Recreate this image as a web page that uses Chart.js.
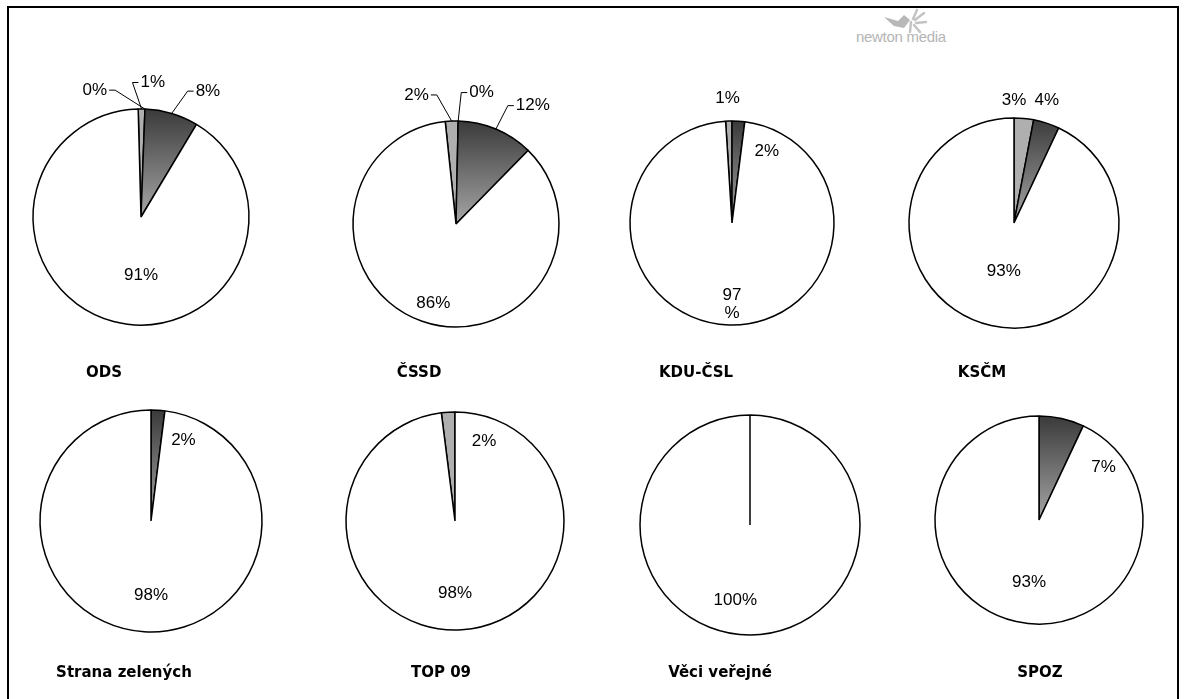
<!DOCTYPE html>
<html>
<head>
<meta charset="utf-8">
<script src="https://cdn.jsdelivr.net/npm/chart.js@4.4.0/dist/chart.umd.min.js"></script>
<style>
body{margin:0;background:#fff;width:1185px;height:699px;overflow:hidden;position:relative;font-family:"DejaVu Sans",sans-serif}
#frame{position:absolute;left:7px;top:6px;width:1168px;height:740px;border:2px solid #000}
.pie{position:absolute;width:300px;height:300px}
.name{position:absolute;font-weight:bold;font-size:15px;transform:translate(-50%,-50%);white-space:nowrap;color:#000}
#logo{position:absolute;left:856px;top:28px;font-family:"Liberation Sans",sans-serif;font-size:15px;color:#b4b4b4;letter-spacing:-0.3px}
#bird{position:absolute;left:880px;top:8px}
</style>
</head>
<body>
<div id="frame"></div>
<svg id="bird" width="60" height="26" viewBox="0 0 60 26">
  <path d="M4 9 L18 13 L24 7 L30 12 L24 20 L14 18 Z" fill="#b8b8b8"/>
  <path d="M33 11 L37 2 M35 12 L44 5 M36 15 L46 14 M34 17 L40 24 M31 14 L30 24" stroke="#c4c4c4" stroke-width="2.5" stroke-linecap="round"/>
</svg>
<div id="logo">newton media</div>
<script>
// strany
const parties = ['ODS', 'ČSSD', 'KDU-ČSL', 'KSČM', 'Strana zelených', 'TOP 09', 'Věci veřejné', 'SPOZ'];
// kategorie vyzneni
const tones = ['pozitivní', 'ambivalentní', 'negativní', 'neutrální'];
// podily v % (null = bez hodnoty)
const positive   = [1, 2, 1, 3, null, 2, null, null];
const ambivalent = [0, 0, null, null, null, null, null, null];
const negative   = [8, 12, 2, 4, 2, null, null, 7];
const neutral    = [91, 86, 97, 93, 98, 98, 100, 93];

// rozlozeni grafu (stred, polomer, natoceni)
const centers = [[141,217],[456,224],[732,223],[1014,223],[151,521],[455,521],[750,525],[1039,520]];
const radii   = [108, 103, 102, 105, 111, 109, 110, 104];
const startDeg = [-1.5, -6, -3.6, 0, 0, -7.2, 0, 0];
const namePos = [[104,372],[419,372],[696,372],[982,372],[124,672],[441,672],[720,672],[1040,672]];
// pozice popisku: [uhel od vrcholu, nasobek polomeru, odkazova cara, zalomeni]
const spots = [
  [[5,1.25,true],[-20,1.25,true],[28,1.32,true],[180,0.54]],
  [[-17,1.31,true],[11,1.30,true],[33,1.37,true],[196,0.8]],
  [[-2,1.22],null,[26,0.78],[180,0.8,false,true]],
  [[0,1.17],null,[15,1.21],[192,0.47]],
  [null,null,[22,0.78],[180,0.67]],
  [[20,0.78],null,null,[180,0.66]],
  [null,null,null,[191,0.7]],
  [null,null,[51,0.8],[189,0.61]]
];

const pctLabels = {
  id: 'pctLabels',
  afterDatasetsDraw(chart, args, opts) {
    const ctx = chart.ctx;
    const meta = chart.getDatasetMeta(0);
    const vals = chart.data.datasets[0].data;
    ctx.save();
    ctx.font = '17px "Liberation Sans", Arial, sans-serif';
    ctx.fillStyle = '#000';
    ctx.strokeStyle = '#000';
    ctx.lineWidth = 1;
    ctx.textAlign = 'center';
    ctx.textBaseline = 'middle';
    meta.data.forEach(function(arc, i){
      const s = opts.spots[i];
      if (vals[i] === null || !s) return;
      const p = arc.getProps(['x','y','outerRadius','startAngle','endAngle'], true);
      const a = (s[0] - 90) * Math.PI / 180;
      const lx = p.x + Math.cos(a) * p.outerRadius * s[1];
      const ly = p.y + Math.sin(a) * p.outerRadius * s[1];
      const txt = vals[i] + '%';
      if (s[3]) {
        ctx.fillText(String(vals[i]), lx, ly - 9);
        ctx.fillText('%', lx, ly + 9);
      } else {
        ctx.fillText(txt, lx, ly);
      }
      if (s[2]) {
        const w = ctx.measureText(txt).width;
        const mid = (p.startAngle + p.endAngle) / 2;
        const ex = p.x + Math.cos(mid) * p.outerRadius;
        const ey = p.y + Math.sin(mid) * p.outerRadius;
        const dir = lx < ex ? 1 : -1;
        const sx = lx + dir * (w / 2 + 2);
        ctx.beginPath();
        ctx.moveTo(sx, ly);
        ctx.lineTo(sx + dir * 6, ly);
        ctx.lineTo(ex, ey);
        ctx.stroke();
      }
    });
    ctx.restore();
  }
};

for (var i = 0; i < parties.length; i++) {
  const box = document.createElement('div');
  box.className = 'pie';
  box.style.left = (centers[i][0] - 150) + 'px';
  box.style.top = (centers[i][1] - 150) + 'px';
  const cv = document.createElement('canvas');
  cv.width = 300; cv.height = 300;
  box.appendChild(cv);
  document.body.appendChild(box);

  const nm = document.createElement('div');
  nm.className = 'name';
  nm.textContent = parties[i];
  nm.style.left = namePos[i][0] + 'px';
  nm.style.top = namePos[i][1] + 'px';
  document.body.appendChild(nm);

  const r = radii[i];
  new Chart(cv.getContext('2d'), {
    type: 'pie',
    plugins: [pctLabels],
    data: {
      labels: tones,
      datasets: [{
        data: [positive[i], ambivalent[i], negative[i], neutral[i]],
        backgroundColor: function(c){
          if (c.dataIndex === 2) {
            const g = c.chart.ctx.createLinearGradient(0, 150 - r, 0, 150);
            g.addColorStop(0, '#3a3a3a');
            g.addColorStop(1, '#a6a6a6');
            return g;
          }
          return ['#afafaf', '#7f7f7f', null, '#ffffff'][c.dataIndex];
        },
        borderColor: '#000',
        borderWidth: 1.5
      }]
    },
    options: {
      responsive: false,
      animation: false,
      radius: r,
      rotation: startDeg[i],
      layout: { padding: 0 },
      plugins: {
        legend: { display: false },
        tooltip: { enabled: false },
        pctLabels: { spots: spots[i] }
      }
    }
  });
}
</script>
</body>
</html>
